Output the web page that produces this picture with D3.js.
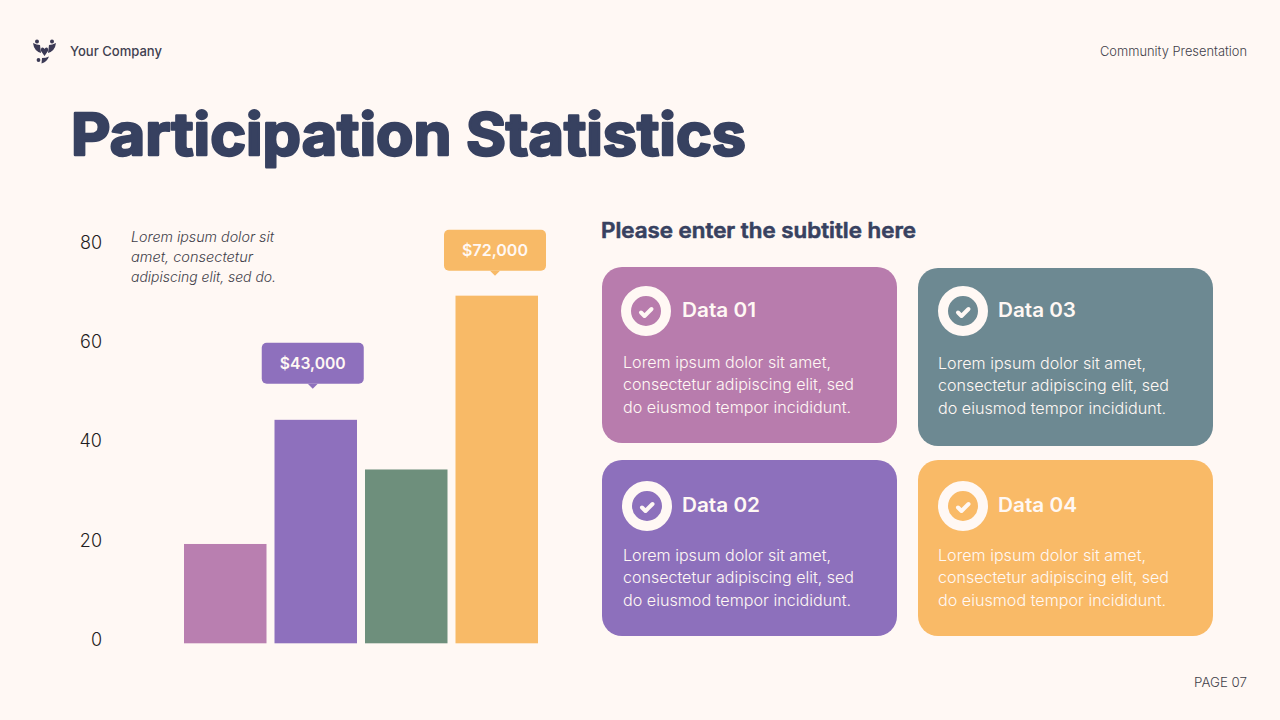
<!DOCTYPE html>
<html>
<head>
<meta charset="utf-8">
<script src="https://cdn.jsdelivr.net/npm/d3@7"></script>
<style>
    html, body { margin: 0; padding: 0; background: #FFF8F4; }
    svg { display: block; }
    text { font-family: 'Inter', sans-serif; }
</style>
</head>
<body>
<svg id="slide" width="1280" height="720"></svg>
<script>
// bar chart values
const barNames = ['Data 01', 'Data 02', 'Data 03', 'Data 04']
const barValues = [20, 45, 35, 70]
const barColors = ['#B97FB0', '#8E70BD', '#6E8F7C', '#F8BA67']
const yTicks = [0, 20, 40, 60, 80]

// callouts over the bars
const calloutBars = ['Data 02', 'Data 04']
const calloutLabels = ['$43,000', '$72,000']
const calloutLifts = [36, 25]
const calloutShifts = [-3, -1.75]

// cards on the right
const cardTitles = ['Data 01', 'Data 03', 'Data 02', 'Data 04']
const cardTitleWidths = [74, 78, 78, 79]
const cardColors = ['#B87CAD', '#6D8992', '#8D70BC', '#F9BA67']
const bodyLines = ['Lorem ipsum dolor sit amet,', 'consectetur adipiscing elit, sed', 'do eiusmod tempor incididunt.']
const noteLines = ['Lorem ipsum dolor sit', 'amet, consectetur', 'adipiscing elit, sed do.']
const noteWidths = [143, 122, 145]
const bodyWidths = [208, 231, 228]

const background = '#FFF8F4'
const navy = '#374160'
const svg = d3.select('#slide')

svg.append('rect').attr('width', 1280).attr('height', 720).attr('fill', background)

// writes a text and squeezes it to the width it has in the reference
function label(parent, str, x, y, size, weight, fill, width, anchor) {
    let t = parent.append('text')
        .attr('x', x)
        .attr('y', y)
        .attr('fill', fill)
        .attr('text-anchor', anchor || 'start')
        .style('font-size', size + 'px')
        .style('font-weight', weight)
        .text(str)
    if (width) {
        t.attr('textLength', width).attr('lengthAdjust', 'spacingAndGlyphs')
    }
    return t
}

// header
const logo = svg.append('g').attr('fill', '#3C3A55')
logo.append('circle').attr('cx', 37).attr('cy', 41.5).attr('r', 2)
logo.append('circle').attr('cx', 52).attr('cy', 41.5).attr('r', 2)
logo.append('circle').attr('cx', 38.5).attr('cy', 60).attr('r', 1.9)
logo.append('path').attr('d', 'M33 43 Q37 45 40 45 L41 53 Q34 51 33 43 Z')
logo.append('path').attr('d', 'M56 43 Q52 45 49 45 L48 53 Q55 51 56 43 Z')
logo.append('path').attr('d', 'M44.5 56 L41 51 Q40.5 47.5 42.5 47.5 Q44 47.5 44.5 49 Q45 47.5 46.5 47.5 Q48.5 47.5 48 51 Z')
logo.append('path').attr('d', 'M49 56.5 Q46 58 42 58 L41.5 63.5 Q47 62 49 56.5 Z')

label(svg, 'Your Company', 70, 56, 13, 500, '#3F3F50', 92)
label(svg, 'Community Presentation', 1100, 56, 13, 300, '#3F3F4A', 147)
label(svg, 'PAGE 07', 1194, 687, 13, 300, '#3F3F4A', 53)

// titles
label(svg, 'Participation Statistics', 71, 155, 58, 700, navy, 675)
    .attr('stroke', navy).attr('stroke-width', 2.4).attr('stroke-linejoin', 'round')
label(svg, 'Please enter the subtitle here', 601, 238, 21, 600, navy, 315)
    .attr('stroke', navy).attr('stroke-width', 0.6).attr('stroke-linejoin', 'round')

// chart
const y = d3.scaleLinear().domain([0, 80]).range([643.3, 246])
const x = d3.scaleBand().domain(barNames).range([184, 538]).paddingInner(0.0884).paddingOuter(0)

const yAxis = svg.append('g')
    .attr('transform', 'translate(102,-3.5)')
    .call(d3.axisLeft(y).tickValues(yTicks).tickSize(0).tickPadding(0))
yAxis.select('.domain').remove()
yAxis.selectAll('text')
    .attr('fill', '#1F1D22')
    .style('font-size', '18px')
    .style('font-weight', 300)

svg.append('g').selectAll('rect')
    .data(barValues)
    .join('rect')
    .attr('x', (d, i) => x(barNames[i]))
    .attr('y', d => y(d))
    .attr('width', x.bandwidth())
    .attr('height', d => y(0) - y(d))
    .attr('fill', (d, i) => barColors[i])

const note = svg.append('g').style('font-style', 'italic')
noteLines.forEach((line, i) => {
    label(note, line, 131, 242 + i * 20, 14, 300, '#3F3F4A', noteWidths[i])
})

calloutLabels.forEach((text, i) => {
    const name = calloutBars[i]
    const idx = barNames.indexOf(name)
    const cx = x(name) + x.bandwidth() / 2 + calloutShifts[i]
    const bottom = y(barValues[idx]) - calloutLifts[i]
    const g = svg.append('g')
    g.append('rect')
        .attr('x', cx - 51).attr('y', bottom - 41)
        .attr('width', 102).attr('height', 41).attr('rx', 5)
        .attr('fill', barColors[idx])
    g.append('path')
        .attr('d', `M${cx - 5} ${bottom} L${cx} ${bottom + 5} L${cx + 5} ${bottom} Z`)
        .attr('fill', barColors[idx])
    label(g, text, cx, bottom - 14.5, 16, 600, background, 66, 'middle')
})

// cards, two columns and two rows
const cardX = d3.scaleOrdinal().domain([0, 1]).range([602, 918])
const cards = [
    { col: 0, top: 267, h: 176, icon: 646, iconY: 311, titleY: 317, bodyY: 368 },
    { col: 1, top: 268, h: 178, icon: 963, iconY: 311, titleY: 317, bodyY: 369 },
    { col: 0, top: 460, h: 176, icon: 647, iconY: 506, titleY: 512, bodyY: 561 },
    { col: 1, top: 460, h: 176, icon: 963, iconY: 506, titleY: 512, bodyY: 561 }
]

cards.forEach((c, i) => {
    const left = cardX(c.col)
    const g = svg.append('g')
    g.append('rect')
        .attr('x', left).attr('y', c.top)
        .attr('width', 295).attr('height', c.h).attr('rx', 20)
        .attr('fill', cardColors[i])
    g.append('circle')
        .attr('cx', c.icon).attr('cy', c.iconY).attr('r', 20)
        .attr('fill', 'none').attr('stroke', background).attr('stroke-width', 10)
    g.append('path')
        .attr('d', `M${c.icon - 5} ${c.iconY + 1.5} L${c.icon - 1.5} ${c.iconY + 5} L${c.icon + 5.5} ${c.iconY - 2}`)
        .attr('fill', 'none').attr('stroke', background)
        .attr('stroke-width', 4).attr('stroke-linecap', 'round').attr('stroke-linejoin', 'round')
    label(g, cardTitles[i], left + 80, c.titleY, 20, 600, background, cardTitleWidths[i])
    bodyLines.forEach((line, j) => {
        label(g, line, left + (c.col ? 20 : 21), c.bodyY + j * 22.3, 15.5, 300, background, bodyWidths[j])
    })
})
</script>
</body>
</html>
